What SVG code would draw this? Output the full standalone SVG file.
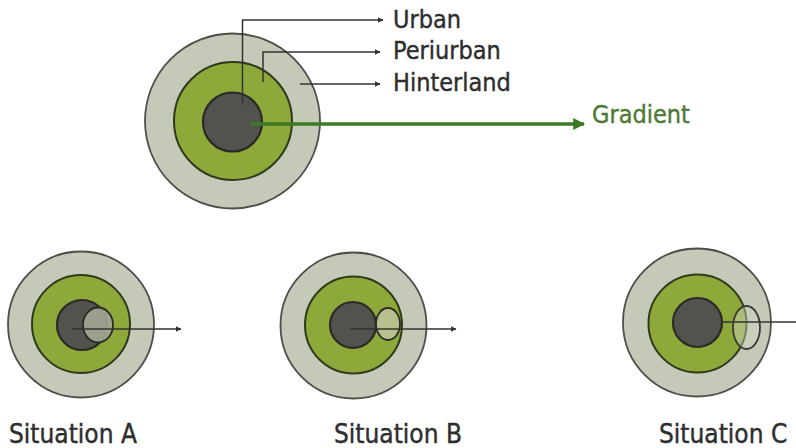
<svg xmlns="http://www.w3.org/2000/svg" width="796" height="448" viewBox="0 0 796 448">
<defs>
<style>
.outer{fill:#c4c9b8;stroke:#4e4e4a;stroke-width:1.8}
.mid{fill:#8ea93a;stroke:#2e3a1c;stroke-width:2}
.inner{fill:#52524e;stroke:#2a2a26;stroke-width:2.2}
.lbl{font-family:"DejaVu Sans Condensed","DejaVu Sans",sans-serif;font-stretch:condensed;font-size:25px;fill:#2e2e2e;stroke:#2e2e2e;stroke-width:0.4}
.sit{font-family:"DejaVu Sans Condensed","DejaVu Sans",sans-serif;font-stretch:condensed;font-size:26px;fill:#2e2e2e;stroke:#2e2e2e;stroke-width:0.4}
.con{fill:none;stroke:#333;stroke-width:1.5}
.grad{fill:none;stroke:#3d7a28;stroke-width:3.5}
</style>
<marker id="ah" viewBox="0 0 10 10" refX="9" refY="5" markerWidth="6" markerHeight="6" markerUnits="userSpaceOnUse" orient="auto">
<path d="M0,0 L10,5 L0,10 z" fill="#333"/>
</marker>
<marker id="ahg" viewBox="0 0 10 10" refX="9" refY="5" markerWidth="14" markerHeight="12" markerUnits="userSpaceOnUse" orient="auto">
<path d="M0,0 L10,5 L0,10 z" fill="#3d7a28"/>
</marker>
</defs>
<rect width="796" height="448" fill="#ffffff"/>
<g id="main">
<circle class="outer" cx="232.5" cy="121" r="87.5"/>
<circle class="mid" cx="233" cy="121" r="59"/>
<circle class="inner" cx="232.5" cy="122" r="29.5"/>
</g>
<g id="situation-a">
<circle class="outer" cx="81" cy="324.5" r="73"/>
<circle class="mid" cx="81" cy="324" r="49"/>
<circle class="inner" cx="82" cy="325" r="25"/>
<ellipse cx="98" cy="325" rx="15" ry="17.5" fill="#a2a796" fill-opacity="0.9" stroke="#2a2a26" stroke-width="1.8"/>
<text class="sit" x="9" y="443">Situation A</text>
</g>
<g id="situation-b">
<circle class="outer" cx="353.5" cy="325.5" r="73"/>
<circle class="mid" cx="353.5" cy="325" r="48.5"/>
<circle class="inner" cx="353" cy="325" r="23"/>
<ellipse cx="388" cy="324" rx="12" ry="16" fill="#b7c08e" stroke="#2a2a26" stroke-width="1.8"/>
<text class="sit" x="334" y="443">Situation B</text>
</g>
<g id="situation-c">
<circle class="outer" cx="697" cy="322.5" r="74"/>
<circle class="mid" cx="697.5" cy="323.5" r="49"/>
<circle class="inner" cx="697.5" cy="322.5" r="24.5"/>
<ellipse cx="746.5" cy="327.5" rx="13.5" ry="21.5" fill="#d0d4c4" fill-opacity="0.45" stroke="#3a3a36" stroke-width="1.8"/>
<text class="sit" x="659" y="443">Situation C</text>
</g>
<g id="labels">
<text class="lbl" x="393" y="28">Urban</text>
<text class="lbl" x="393" y="59">Periurban</text>
<text class="lbl" x="393" y="91">Hinterland</text>
<text class="lbl" x="592" y="123" style="fill:#4e7a35;stroke:#4e7a35">Gradient</text>
</g>
<g id="connectors">
<polyline class="con" points="242.5,105 242.5,20 383,20" marker-end="url(#ah)"/>
<polyline class="con" points="263,82 263,52 380,52" marker-end="url(#ah)"/>
<line class="con" x1="300" y1="84" x2="380" y2="84" marker-end="url(#ah)"/>
<line class="grad" x1="250" y1="124" x2="584" y2="124" marker-end="url(#ahg)"/>
<line class="con" x1="72" y1="329" x2="181" y2="329" marker-end="url(#ah)"/>
<line class="con" x1="350" y1="329" x2="456" y2="329" marker-end="url(#ah)"/>
<line class="con" x1="722" y1="322" x2="796" y2="322"/>
</g>
</svg>
